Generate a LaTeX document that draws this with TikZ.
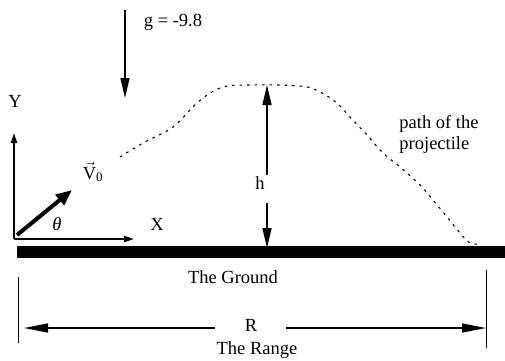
\documentclass[tikz,border=0pt]{standalone}
\usepackage{amsmath}
\usepackage{fontspec}
\setmainfont{Liberation Serif}
\usetikzlibrary{arrows.meta}
\begin{document}
\begin{tikzpicture}[x=1pt,y=-1pt,
  lbl/.style={font=\fontsize{18.5}{21}\selectfont, inner sep=0pt},
  longarr/.style={line width=1.3pt,-{Triangle[length=20pt,width=9pt]}},
  axisarr/.style={line width=2pt,-{Triangle[length=10pt,width=6pt]}},
  rangearr/.style={line width=1.3pt,-{Triangle[length=24pt,width=9pt]}},
  traj/.style={line width=1.1pt,dash pattern=on 2.5pt off 5pt}]
\useasboundingbox (0,0) rectangle (505,360);
% gravity
\coordinate (g0) at (125,10);
\coordinate (g1) at (125,98);
\draw[longarr] (g0) -- (g1);
\node[lbl] (glbl) at (173,22) {g = -9.8};
% axes
\coordinate (o) at (14,239);
\coordinate (ytip) at (14,133);
\coordinate (xtip) at (134,239);
\draw[axisarr] (o) -- (ytip);
\draw[axisarr] (o) -- (xtip);
\node[lbl] (ylbl) at (15,101) {Y};
\node[lbl] (xlbl) at (157,224) {X};
% velocity
\coordinate (v0) at (17,235);
\coordinate (v1) at (72,190);
\draw[line width=4pt,-{Triangle[length=16pt,width=13pt]}] (v0) -- (v1);
\node[lbl] (theta) at (57,224) {\itshape θ};
\node[lbl] (vlbl) at (93,172) {$\vec{\text{V}}_{\text{0}}$};
% trajectory
\draw[traj] plot[smooth,tension=0.6] coordinates {(120,157) (143,143) (173,127) (197,103) (220,88) (247,85) (300,86) (320,92) (337,103) (350,117) (367,135) (383,153) (400,167) (420,185) (433,200) (447,217) (460,233) (470,243) (478,244)};
\node[lbl,align=left] (plbl) at (439,134) {path of the\\projectile};
% ground
\fill (17,246) rectangle (505,258);
\node[lbl] (gnd) at (233,277) {The Ground};
% height
\node[lbl] (hlbl) at (260,183) {h};
\coordinate (htop) at (267,85);
\coordinate (hbot) at (267,248);
\draw[longarr] (267,175) -- (htop);
\draw[longarr] (267,203) -- (hbot);
% range
\coordinate (l0) at (18,277);
\coordinate (l1) at (18,343);
\coordinate (r0) at (486,270);
\coordinate (r1) at (486,348);
\draw[line width=1pt] (l0) -- (l1);
\draw[line width=1pt] (r0) -- (r1);
\node[lbl] (rlbl) at (251,325) {R};
\coordinate (ra) at (24,328);
\coordinate (rb) at (486,328);
\draw[rangearr] (215,328) -- (ra);
\draw[rangearr] (286,328) -- (rb);
\node[lbl] (rng) at (257,350) {The Range};
\end{tikzpicture}
\end{document}
